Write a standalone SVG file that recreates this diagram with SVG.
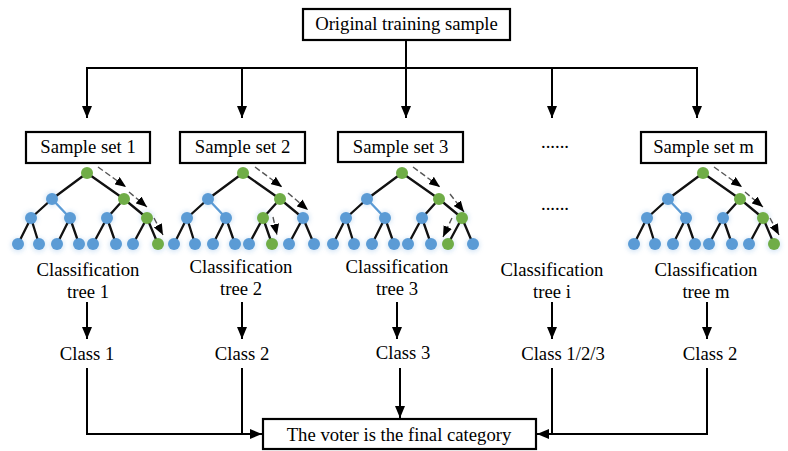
<svg xmlns="http://www.w3.org/2000/svg" width="788" height="451" viewBox="0 0 788 451">
  <style>
    .box { fill: #ffffff; stroke: #000000; stroke-width: 2.2; }
    .lbl { font-family: "Liberation Serif", "Times New Roman", serif; font-size: 18.7px; fill: #000000; text-anchor: middle; }
    .conn { fill: none; stroke: #000000; stroke-width: 2; }
    .arr { marker-end: url(#head); }
    .edge { stroke: #111111; stroke-width: 2.3; stroke-linecap: round; }
    .edge-b { stroke: #5B9BD5; stroke-width: 2.3; stroke-linecap: round; }
    .nb { fill: #5B9BD5; }
    .ng { fill: #70AD47; }
    .halo { fill: #9cc3e8; opacity: 0.35; filter: url(#soft); }
    .path-arrow { fill: none; stroke: #555555; stroke-width: 1.4; stroke-dasharray: 6 3; marker-end: url(#smallhead); }
  </style>
  <defs>
    <marker id="head" viewBox="0 0 12 10" refX="12" refY="5" markerWidth="12" markerHeight="10" markerUnits="userSpaceOnUse" orient="auto">
      <path d="M0,0 L12,5 L0,10 Z" fill="#000000"/>
    </marker>
    <marker id="smallhead" viewBox="0 0 11 9" refX="11" refY="4.5" markerWidth="11" markerHeight="9" markerUnits="userSpaceOnUse" orient="auto">
      <path d="M0,0 L11,4.5 L0,9 Z" fill="#000000"/>
    </marker>
    <filter id="soft" x="-50%" y="-50%" width="200%" height="200%">
      <feGaussianBlur stdDeviation="2"/>
    </filter>
    <!-- shared edge layout of a depth-3 binary tree, root at x=0 -->
    <g id="tree-edges">
      <line class="edge" x1="0" y1="173" x2="-35" y2="199"/>
      <line class="edge" x1="0" y1="173" x2="37" y2="199"/>
      <line class="edge" x1="-35" y1="199" x2="-56" y2="218"/>
      <line class="edge-b" x1="-35" y1="199" x2="-17" y2="218"/>
      <line class="edge" x1="37" y1="199" x2="20" y2="218"/>
      <line class="edge" x1="37" y1="199" x2="60" y2="218"/>
      <line class="edge" x1="-56" y1="218" x2="-69" y2="244"/>
      <line class="edge" x1="-56" y1="218" x2="-48" y2="244"/>
      <line class="edge" x1="-17" y1="218" x2="-30" y2="244"/>
      <line class="edge" x1="-17" y1="218" x2="-8" y2="244"/>
      <line class="edge" x1="20" y1="218" x2="6" y2="244"/>
      <line class="edge" x1="20" y1="218" x2="29" y2="244"/>
      <line class="edge" x1="60" y1="218" x2="46" y2="244"/>
      <line class="edge" x1="60" y1="218" x2="71" y2="244"/>
    </g>
    <g id="tree-halos">
      <circle class="halo" cx="-35" cy="199" r="7.5"/>
      <circle class="halo" cx="-56" cy="218" r="7.5"/>
      <circle class="halo" cx="-17" cy="218" r="7.5"/>
      <circle class="halo" cx="20" cy="218" r="7.5"/>
      <circle class="halo" cx="60" cy="218" r="7.5"/>
      <circle class="halo" cx="-69" cy="245" r="7.5"/>
      <circle class="halo" cx="-48" cy="245" r="7.5"/>
      <circle class="halo" cx="-30" cy="245" r="7.5"/>
      <circle class="halo" cx="-8" cy="245" r="7.5"/>
      <circle class="halo" cx="6" cy="245" r="7.5"/>
      <circle class="halo" cx="29" cy="245" r="7.5"/>
      <circle class="halo" cx="46" cy="245" r="7.5"/>
      <circle class="halo" cx="71" cy="245" r="7.5"/>
    </g>
  </defs>

  <rect width="788" height="451" fill="#ffffff"/>

  <!-- connectors -->
  <g id="connectors">
    <line class="conn" x1="406" y1="40" x2="406" y2="68"/>
    <line class="conn" x1="86" y1="68" x2="698" y2="68"/>
    <line class="conn arr" x1="87" y1="67" x2="87" y2="118"/>
    <line class="conn arr" x1="242" y1="67" x2="242" y2="118"/>
    <line class="conn arr" x1="406" y1="67" x2="406" y2="118"/>
    <line class="conn arr" x1="552" y1="67" x2="552" y2="118"/>
    <line class="conn arr" x1="697" y1="67" x2="697" y2="118"/>

    <line class="conn arr" x1="87" y1="302" x2="87" y2="339"/>
    <line class="conn arr" x1="242" y1="302" x2="242" y2="339"/>
    <line class="conn arr" x1="397" y1="302" x2="397" y2="339"/>
    <line class="conn arr" x1="552" y1="302" x2="552" y2="339"/>
    <line class="conn arr" x1="707" y1="302" x2="707" y2="339"/>

    <polyline class="conn arr" points="87,368 87,434 262,434"/>
    <line class="conn" x1="242" y1="368" x2="242" y2="434"/>
    <line class="conn arr" x1="400" y1="368" x2="400" y2="418"/>
    <polyline class="conn arr" points="707,368 707,434 537,434"/>
    <line class="conn" x1="552" y1="368" x2="552" y2="434"/>
  </g>

  <!-- source -->
  <g id="original-sample">
    <rect class="box" x="303" y="9" width="207" height="31"/>
    <text class="lbl" x="406.5" y="30">Original training sample</text>
  </g>

  <!-- column 1 -->
  <g id="sample-set-1">
    <rect class="box" x="26" y="132" width="124" height="31"/>
    <text class="lbl" x="88" y="153">Sample set 1</text>
  </g>
  <g id="tree-1" transform="translate(87,0)">
    <use href="#tree-halos"/>
    <use href="#tree-edges"/>
    <circle class="ng" cx="0" cy="173" r="6"/>
    <circle class="nb" cx="-35" cy="199" r="6"/>
    <circle class="ng" cx="37" cy="199" r="6"/>
    <circle class="nb" cx="-56" cy="218" r="6"/>
    <circle class="nb" cx="-17" cy="218" r="6"/>
    <circle class="nb" cx="20" cy="218" r="6"/>
    <circle class="ng" cx="60" cy="218" r="6"/>
    <circle class="nb" cx="-69" cy="244" r="6"/>
    <circle class="nb" cx="-48" cy="244" r="6"/>
    <circle class="nb" cx="-30" cy="244" r="6"/>
    <circle class="nb" cx="-8" cy="244" r="6"/>
    <circle class="nb" cx="6" cy="244" r="6"/>
    <circle class="nb" cx="29" cy="244" r="6"/>
    <circle class="nb" cx="46" cy="244" r="6"/>
    <circle class="ng" cx="71" cy="244" r="6"/>
    <line class="path-arrow" x1="11" y1="167" x2="39" y2="187"/>
    <line class="path-arrow" x1="42" y1="192" x2="60" y2="207"/>
    <line class="path-arrow" x1="67" y1="218" x2="76" y2="235"/>
  </g>
  <g id="tree-label-1">
    <text class="lbl" x="88" y="276">Classification</text>
    <text class="lbl" x="88" y="298">tree 1</text>
  </g>
  <g id="class-1"><text class="lbl" x="87" y="360">Class 1</text></g>

  <!-- column 2 -->
  <g id="sample-set-2">
    <rect class="box" x="180" y="132" width="125" height="31"/>
    <text class="lbl" x="242.5" y="153">Sample set 2</text>
  </g>
  <g id="tree-2" transform="translate(243,0)">
    <use href="#tree-halos"/>
    <use href="#tree-edges"/>
    <circle class="ng" cx="0" cy="173" r="6"/>
    <circle class="nb" cx="-35" cy="199" r="6"/>
    <circle class="ng" cx="37" cy="199" r="6"/>
    <circle class="nb" cx="-56" cy="218" r="6"/>
    <circle class="nb" cx="-17" cy="218" r="6"/>
    <circle class="ng" cx="20" cy="218" r="6"/>
    <circle class="nb" cx="60" cy="218" r="6"/>
    <circle class="nb" cx="-69" cy="244" r="6"/>
    <circle class="nb" cx="-48" cy="244" r="6"/>
    <circle class="nb" cx="-30" cy="244" r="6"/>
    <circle class="nb" cx="-8" cy="244" r="6"/>
    <circle class="nb" cx="6" cy="244" r="6"/>
    <circle class="ng" cx="29" cy="244" r="6"/>
    <circle class="nb" cx="46" cy="244" r="6"/>
    <circle class="nb" cx="71" cy="244" r="6"/>
    <line class="path-arrow" x1="12" y1="167" x2="39" y2="187"/>
    <line class="path-arrow" x1="45" y1="193" x2="65" y2="210"/>
    <line class="path-arrow" x1="30" y1="217" x2="34" y2="235"/>
  </g>
  <g id="tree-label-2">
    <text class="lbl" x="241" y="273">Classification</text>
    <text class="lbl" x="241" y="295">tree 2</text>
  </g>
  <g id="class-2"><text class="lbl" x="242" y="360">Class 2</text></g>

  <!-- column 3 -->
  <g id="sample-set-3">
    <rect class="box" x="338" y="132" width="125" height="30"/>
    <text class="lbl" x="400.5" y="153">Sample set 3</text>
  </g>
  <g id="tree-3" transform="translate(402,0)">
    <use href="#tree-halos"/>
    <use href="#tree-edges"/>
    <circle class="ng" cx="0" cy="173" r="6"/>
    <circle class="nb" cx="-35" cy="199" r="6"/>
    <circle class="ng" cx="37" cy="199" r="6"/>
    <circle class="nb" cx="-56" cy="218" r="6"/>
    <circle class="nb" cx="-17" cy="218" r="6"/>
    <circle class="nb" cx="20" cy="218" r="6"/>
    <circle class="ng" cx="60" cy="218" r="6"/>
    <circle class="nb" cx="-69" cy="244" r="6"/>
    <circle class="nb" cx="-48" cy="244" r="6"/>
    <circle class="nb" cx="-30" cy="244" r="6"/>
    <circle class="nb" cx="-8" cy="244" r="6"/>
    <circle class="nb" cx="6" cy="244" r="6"/>
    <circle class="nb" cx="29" cy="244" r="6"/>
    <circle class="ng" cx="46" cy="244" r="6"/>
    <circle class="nb" cx="71" cy="244" r="6"/>
    <line class="path-arrow" x1="11" y1="167" x2="38" y2="187"/>
    <line class="path-arrow" x1="48" y1="194" x2="62" y2="212"/>
    <line class="path-arrow" x1="50" y1="218" x2="41" y2="237"/>
  </g>
  <g id="tree-label-3">
    <text class="lbl" x="397" y="273">Classification</text>
    <text class="lbl" x="397" y="295">tree 3</text>
  </g>
  <g id="class-3"><text class="lbl" x="403" y="359">Class 3</text></g>

  <!-- column i -->
  <g id="sample-set-i"><text class="lbl" x="555" y="148">......</text></g>
  <g id="tree-i"><text class="lbl" x="555" y="210">......</text></g>
  <g id="tree-label-i">
    <text class="lbl" x="552" y="276">Classification</text>
    <text class="lbl" x="552" y="298">tree i</text>
  </g>
  <g id="class-i"><text class="lbl" x="563" y="360">Class 1/2/3</text></g>

  <!-- column m -->
  <g id="sample-set-m">
    <rect class="box" x="641" y="132" width="125" height="31"/>
    <text class="lbl" x="703.5" y="153">Sample set m</text>
  </g>
  <g id="tree-m" transform="translate(703,0)">
    <use href="#tree-halos"/>
    <use href="#tree-edges"/>
    <circle class="ng" cx="0" cy="173" r="6"/>
    <circle class="nb" cx="-35" cy="199" r="6"/>
    <circle class="ng" cx="37" cy="199" r="6"/>
    <circle class="nb" cx="-56" cy="218" r="6"/>
    <circle class="nb" cx="-17" cy="218" r="6"/>
    <circle class="nb" cx="20" cy="218" r="6"/>
    <circle class="ng" cx="60" cy="218" r="6"/>
    <circle class="nb" cx="-69" cy="244" r="6"/>
    <circle class="nb" cx="-48" cy="244" r="6"/>
    <circle class="nb" cx="-30" cy="244" r="6"/>
    <circle class="nb" cx="-8" cy="244" r="6"/>
    <circle class="nb" cx="6" cy="244" r="6"/>
    <circle class="nb" cx="29" cy="244" r="6"/>
    <circle class="nb" cx="46" cy="244" r="6"/>
    <circle class="ng" cx="71" cy="244" r="6"/>
    <line class="path-arrow" x1="11" y1="167" x2="39" y2="187"/>
    <line class="path-arrow" x1="42" y1="192" x2="60" y2="207"/>
    <line class="path-arrow" x1="67" y1="218" x2="76" y2="235"/>
  </g>
  <g id="tree-label-m">
    <text class="lbl" x="706" y="276">Classification</text>
    <text class="lbl" x="706" y="298">tree m</text>
  </g>
  <g id="class-m"><text class="lbl" x="710" y="360">Class 2</text></g>

  <!-- sink -->
  <g id="final-category">
    <rect class="box" x="263" y="419" width="273" height="30"/>
    <text class="lbl" x="399" y="441">The voter is the final category</text>
  </g>
</svg>
